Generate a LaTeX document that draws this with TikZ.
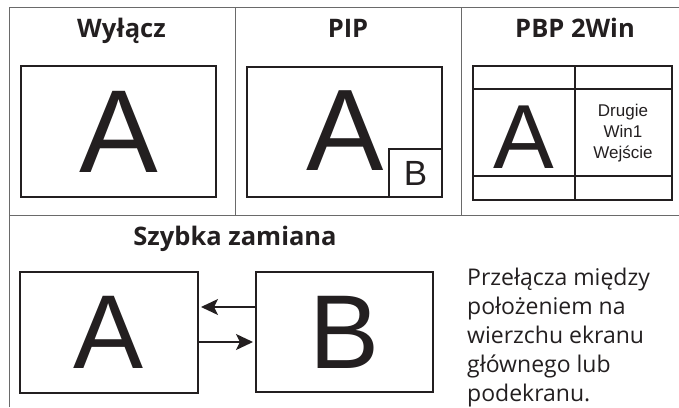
\documentclass[tikz,border=0pt]{standalone}
\usepackage{fontspec}
\setmainfont{Open Sans}
\newfontfamily\arialfont{Liberation Sans}
\usetikzlibrary{positioning,arrows.meta}
\definecolor{pipgray}{HTML}{6a6a6a}
\definecolor{pipink}{HTML}{231f20}

\begin{document}
\begin{tikzpicture}[x=1pt,y=-1pt,
  screen/.style={draw=pipink,line width=2pt,inner sep=0pt,outer sep=0pt,text=pipink},
  bigletter/.style={text=pipink,inner sep=0pt,anchor=base,font=\arialfont\fontsize{#1}{#1}\selectfont},
  title/.style={text=pipink,inner sep=0pt,anchor=base,font=\bfseries\fontsize{25.5}{25.5}\selectfont},
  swaparrow/.style={draw=pipink,line width=1.3pt,-{Stealth[length=17pt,width=16pt,inset=4pt]}}]
  \useasboundingbox (0,0) rectangle (679,407);
  \draw[pipgray,line width=1pt] (9,407) -- (9,7) -- (679,7);
  \draw[pipgray,line width=1pt] (9,215) -- (679,215);
  \draw[pipgray,line width=1pt] (235,7) -- (235,215);
  \draw[pipgray,line width=1pt] (461,7) -- (461,215);
  \node[title] (offtitle) at (121.5,37) {Wyłącz};
  \node[title] (piptitle) at (348,37) {PIP};
  \node[title] (pbptitle) at (575,37) {PBP 2Win};
  \node[title] (swaptitle) at (235,245) {Szybka zamiana};
  \node[screen,minimum width=195,minimum height=131,font=\arialfont\fontsize{118}{118}\selectfont] (offscr) at (118.5,131.5) {A};
  \node[screen,minimum width=195,minimum height=130] (pipscr) at (344.5,132) {};
  \node[bigletter=116] (pipA) at (345,170) {A};
  \node[screen,minimum width=53,minimum height=48,anchor=south east,font=\arialfont\fontsize{35}{35}\selectfont] (pipB) at (pipscr.south east) {B};
  \node[screen,minimum width=199,minimum height=134] (pbpscr) at (572.5,133) {};
  \draw[pipink,line width=2pt] (pbpscr.north west) ++(102,0) coordinate (pbptop) -- (pbptop |- pbpscr.south);
  \draw[pipink,line width=2pt] (pbpscr.west |- 0,89) -- (pbpscr.east |- 0,89);
  \draw[pipink,line width=2pt] (pbpscr.west |- 0,176) -- (pbpscr.east |- 0,176);
  \node[bigletter=91] (pbpA) at (524,168) {A};
  \node[text=pipink,align=center,font=\arialfont\fontsize{17}{21}\selectfont] (pbptext) at (623,133) {Drugie\\Win1\\Wejście};
  \node[screen,minimum width=178,minimum height=121,font=\arialfont\fontsize{105}{105}\selectfont] (swapA) at (109,332.5) {A};
  \node[screen,minimum width=177,minimum height=120,font=\arialfont\fontsize{105}{105}\selectfont] (swapB) at (344.5,332) {B};
  \draw[swaparrow,shorten >=3pt] (swapB.west |- 0,307) -- (swapA.east |- 0,307);
  \draw[swaparrow,shorten >=3pt] (swapA.east |- 0,342) -- (swapB.west |- 0,342);
  \node[text=pipink,anchor=west,align=left,inner sep=0pt,font=\fontsize{23}{29}\selectfont] (swapnote) at (467,337.5) {Przełącza między\\położeniem na\\wierzchu ekranu\\głównego lub\\podekranu.};
\end{tikzpicture}
\end{document}
